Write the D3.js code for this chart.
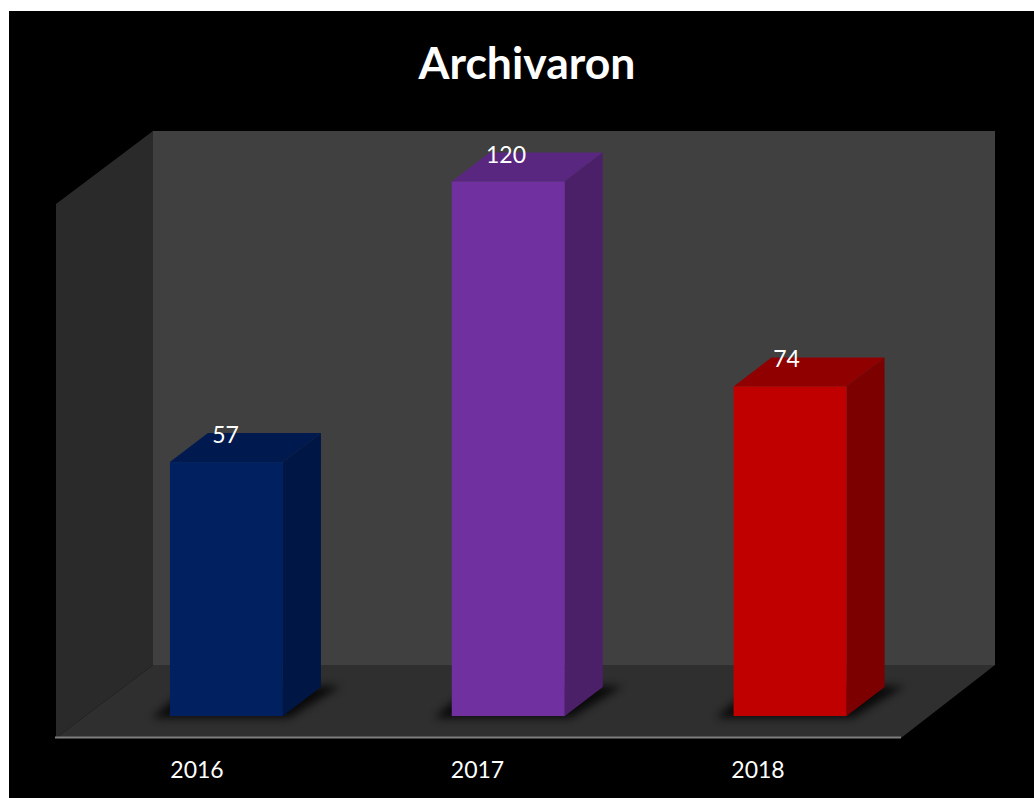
<!DOCTYPE html>
<html><head><meta charset="utf-8">
<style>html,body{margin:0;padding:0;background:#fff;overflow:hidden}svg{display:block}</style>
<script src="https://cdn.jsdelivr.net/npm/d3@7"></script></head>
<body><script>
const chartTitle = "Archivaron";
const categories = ["2016","2017","2018"];
const values = [57,120,74];
const frontColors = ["#002060","#7030a0","#c00000"];
const topColors = ["#001a4f","#5a2780","#900000"];
const sideColors = ["#001644","#4b2069","#7c0000"];

const W=1034,H=798;
const svg=d3.select("body").append("svg").attr("width",W).attr("height",H);
svg.append("rect").attr("x",9).attr("y",11).attr("width",W-9).attr("height",H-11).attr("fill","#000");

const dx=38,dy=29;
const x=d3.scaleBand().domain(categories).range([85.5,931]).paddingInner(1-113/281.8).paddingOuter((1-113/281.8)/2);
const y=d3.scaleLinear().domain([0,120]).range([716,181.5]);
const xLabel=d3.scalePoint().domain(categories).range([196.5,757.5]);
const xValue=d3.scalePoint().domain(categories).range([225.5,786.5]);

const wallTop=131,wallBottom=665,wallL=153,wallR=995,depthX=97,depthY=73;
const poly=(pts,fill)=>svg.append("polygon").attr("points",pts.map(p=>p.join(",")).join(" ")).attr("fill",fill);
poly([[wallL,wallTop],[wallR,wallTop],[wallR,wallBottom],[wallL,wallBottom]],"#404040");
poly([[wallL-depthX,wallTop+depthY],[wallL,wallTop],[wallL,wallBottom],[wallL-depthX,wallBottom+depthY]],"#2a2a2a");
poly([[wallL-depthX,wallBottom+depthY],[wallL,wallBottom],[wallR,wallBottom],[wallR-depthX+3,wallBottom+depthY]],"#2f2f2f");

const defs=svg.append("defs");
defs.append("filter").attr("id","blur").attr("x","-30%").attr("y","-60%").attr("width","160%").attr("height","220%")
  .append("feGaussianBlur").attr("stdDeviation",4.5);

const g=svg.selectAll("g.bar").data(categories.map((c,i)=>({c,v:values[i],i}))).join("g").attr("class","bar");
g.append("polygon").attr("filter","url(#blur)").attr("fill","#000").attr("opacity",0.8)
  .attr("points",d=>{const l=x(d.c),r=l+x.bandwidth(),b=y(0);
    return [[l-18,b+2],[r+6,b+2],[r+dx+20,b-dy-1],[l+dx-18,b-dy-1]].map(p=>p.join(",")).join(" ");});
g.append("polygon").attr("fill",d=>topColors[d.i])
  .attr("points",d=>{const l=x(d.c),r=l+x.bandwidth(),t=y(d.v);
    return [[l,t],[l+dx,t-dy],[r+dx,t-dy],[r,t]].map(p=>p.join(",")).join(" ");});
g.append("polygon").attr("fill",d=>sideColors[d.i])
  .attr("points",d=>{const r=x(d.c)+x.bandwidth(),t=y(d.v),b=y(0);
    return [[r,t],[r+dx,t-dy],[r+dx,b-dy],[r,b]].map(p=>p.join(",")).join(" ");});
g.append("rect").attr("fill",d=>frontColors[d.i]).attr("x",d=>x(d.c)).attr("y",d=>y(d.v))
  .attr("width",x.bandwidth()).attr("height",d=>y(0)-y(d.v));
g.append("text").attr("x",d=>xValue(d.c)).attr("y",d=>y(d.v)-19)
  .attr("text-anchor","middle").attr("fill","#fff").attr("font-family","Lato, 'Open Sans', sans-serif").attr("font-size",23)
  .text(d=>d.v);

const axis=d3.axisBottom(xLabel).tickSize(0).tickPadding(24.5);
const ag=svg.append("g").attr("transform","translate(0,737.5)").call(axis);
ag.select(".domain").remove();
ag.append("line").attr("x1",55).attr("x2",901).attr("y1",0).attr("y2",0).attr("stroke","#7f7f7f").attr("stroke-width",2);
ag.selectAll(".tick text").attr("fill","#fff").attr("font-family","Lato, 'Open Sans', sans-serif").attr("font-size",23);

svg.append("text").attr("x",527).attr("y",79).attr("text-anchor","middle").attr("fill","#fff")
  .attr("font-family","Lato, 'Open Sans', sans-serif").attr("font-weight",700).attr("font-size",44.5).text(chartTitle);
</script></body></html>
